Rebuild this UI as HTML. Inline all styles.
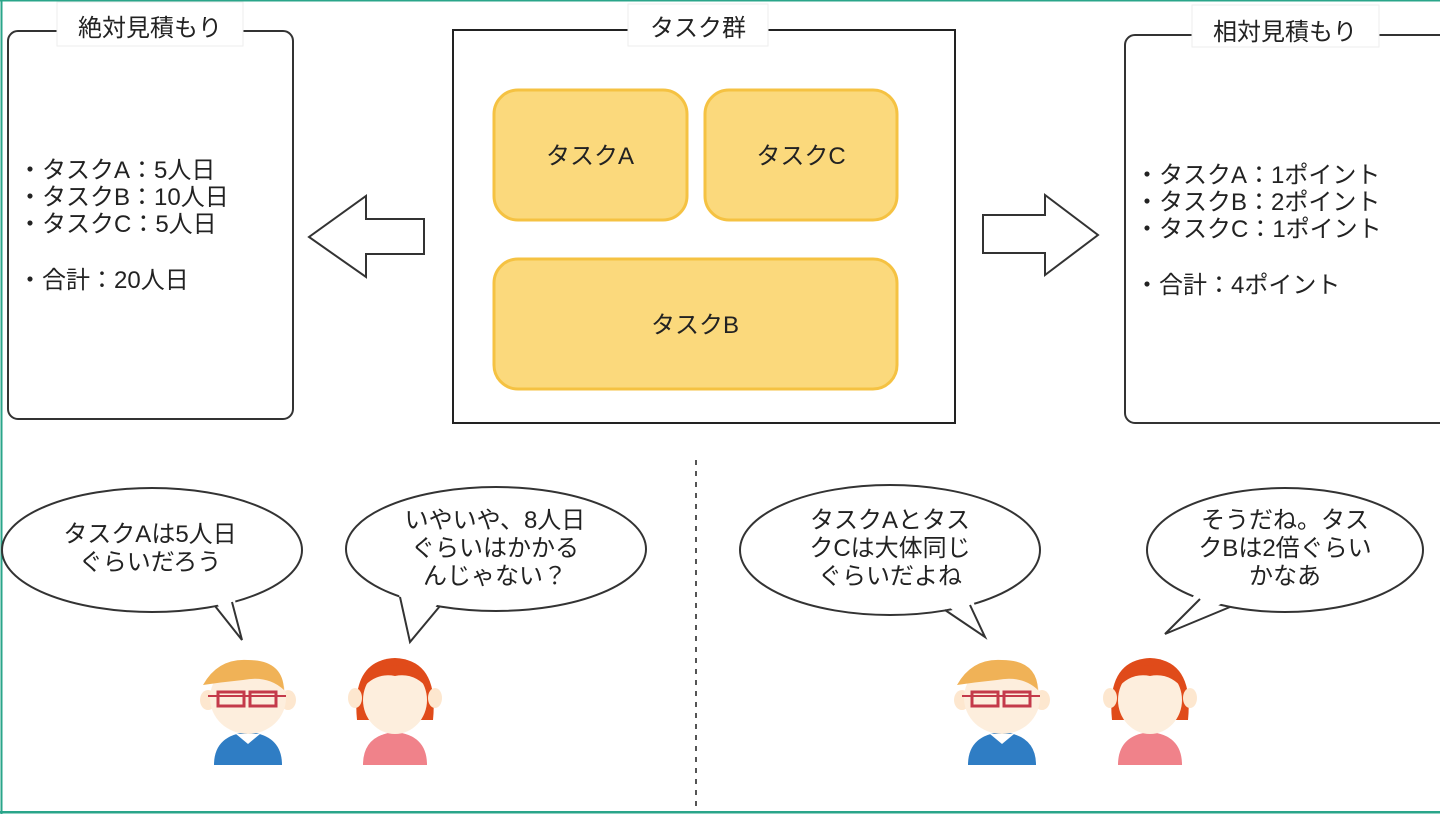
<!DOCTYPE html>
<html><head><meta charset="utf-8"><style>
html,body{margin:0;padding:0;background:#fff}
svg{display:block}
text{font-family:"Liberation Sans","Noto Sans CJK JP",sans-serif;fill:#222}
</style></head><body>
<svg width="1440" height="818" viewBox="0 0 1440 818" xmlns="http://www.w3.org/2000/svg">
<rect x="0" y="0" width="1440" height="818" fill="#fff"/>
<rect x="0.5" y="0" width="2" height="814" fill="#2aa58a"/>
<rect x="0" y="811" width="1440" height="2.5" fill="#2aa58a"/>
<rect x="0" y="0" width="1440" height="1.5" fill="#2aa58a"/>

<rect x="8" y="31" width="285" height="388" rx="10" fill="#fff" stroke="#333" stroke-width="2"/>
<rect x="57" y="2" width="186" height="44" fill="#fff" stroke="#eee"/>
<text x="150" y="36" font-size="24" text-anchor="middle">絶対見積もり</text>
<g font-size="24">
<text x="18" y="178">・タスクA：5人日</text>
<text x="18" y="205">・タスクB：10人日</text>
<text x="18" y="232">・タスクC：5人日</text>
<text x="18" y="288">・合計：20人日</text>
</g>

<rect x="453" y="30" width="502" height="393" fill="#fff" stroke="#222" stroke-width="2"/>
<rect x="628" y="4" width="140" height="42" fill="#fff" stroke="#eee"/>
<text x="698" y="36" font-size="24" text-anchor="middle">タスク群</text>
<rect x="494" y="90" width="193" height="130" rx="24" fill="#fbd97c" stroke="#f5c242" stroke-width="3"/>
<text x="590" y="164" font-size="24" text-anchor="middle">タスクA</text>
<rect x="705" y="90" width="192" height="130" rx="24" fill="#fbd97c" stroke="#f5c242" stroke-width="3"/>
<text x="801" y="164" font-size="24" text-anchor="middle">タスクC</text>
<rect x="494" y="259" width="403" height="130" rx="24" fill="#fbd97c" stroke="#f5c242" stroke-width="3"/>
<text x="695" y="333" font-size="24" text-anchor="middle">タスクB</text>

<polygon points="424,219 366,219 366,196 309,237 366,277 366,254 424,254" fill="#fff" stroke="#333" stroke-width="2"/>
<polygon points="983,215 1045,215 1045,195 1098,235 1045,275 1045,253 983,253" fill="#fff" stroke="#333" stroke-width="2"/>

<rect x="1125" y="35" width="330" height="388" rx="10" fill="#fff" stroke="#333" stroke-width="2"/>
<rect x="1192" y="5" width="187" height="42" fill="#fff" stroke="#eee"/>
<text x="1285" y="40" font-size="24" text-anchor="middle">相対見積もり</text>
<g font-size="24">
<text x="1135" y="183">・タスクA：1ポイント</text>
<text x="1135" y="210">・タスクB：2ポイント</text>
<text x="1135" y="237">・タスクC：1ポイント</text>
<text x="1135" y="293">・合計：4ポイント</text>
</g>

<line x1="696" y1="460" x2="696" y2="810" stroke="#555" stroke-width="2" stroke-dasharray="5,6"/>

<!-- bubbles -->
<g stroke="#333" stroke-width="2" fill="#fff">
<ellipse cx="152" cy="550" rx="150" ry="62"/>
<ellipse cx="496" cy="549" rx="150" ry="62"/>
<ellipse cx="890" cy="550" rx="150" ry="65"/>
<ellipse cx="1285" cy="550" rx="138" ry="62"/>
</g>
<g fill="#fff" stroke="none">
<polygon points="213,598 242,640 234,594"/>
<polygon points="398,590 410,642 442,598"/>
<polygon points="943,602 985,637 972,597"/>
<polygon points="1198,590 1165,634 1232,598"/>
</g>
<g stroke="#333" stroke-width="2" fill="none">
<polyline points="215,606 242,640 232,602"/>
<polyline points="400,597 410,642 440,606"/>
<polyline points="945,610 985,637 970,605"/>
<polyline points="1200,599 1165,634 1230,607"/>
</g>
<g font-size="24" text-anchor="middle">
<text x="150" y="542">タスクAは5人日</text>
<text x="150" y="570">ぐらいだろう</text>
<text x="495" y="528">いやいや、8人日</text>
<text x="495" y="556">ぐらいはかかる</text>
<text x="495" y="584">んじゃない？</text>
<text x="890" y="528">タスクAとタス</text>
<text x="890" y="556">クCは大体同じ</text>
<text x="890" y="584">ぐらいだよね</text>
<text x="1285" y="528">そうだね。タス</text>
<text x="1285" y="556">クBは2倍ぐらい</text>
<text x="1285" y="584">かなあ</text>
</g>

<defs>
<g id="man">
<path d="M-34,85 Q-34,55 0,52 Q34,55 34,85 Z" fill="#2f7dc4"/>
<path d="M-12,54 L0,64 L12,54 Z" fill="#fff"/>
<ellipse cx="-40" cy="20" rx="8" ry="10" fill="#fde7cf"/>
<ellipse cx="40" cy="20" rx="8" ry="10" fill="#fde7cf"/>
<ellipse cx="0" cy="18" rx="38" ry="36" fill="#fdeedd"/>
<path d="M-45,5 Q-30,-22 0,-20 Q35,-20 36,10 Q20,-5 -5,0 Q-25,2 -45,5Z" fill="#f0b257"/>
<rect x="-30" y="12" width="26" height="14" fill="none" stroke="#c43a4a" stroke-width="3"/>
<rect x="2" y="12" width="26" height="14" fill="none" stroke="#c43a4a" stroke-width="3"/>
<line x1="-40" y1="16" x2="38" y2="16" stroke="#c43a4a" stroke-width="2"/>
</g>
<g id="woman">
<path d="M-32,85 Q-32,55 0,52 Q32,55 32,85 Z" fill="#f0828a"/>
<path d="M-38,40 Q-44,-20 0,-22 Q44,-20 38,40 Z" fill="#e04b1a"/>
<ellipse cx="-40" cy="18" rx="7" ry="10" fill="#fde7cf"/>
<ellipse cx="40" cy="18" rx="7" ry="10" fill="#fde7cf"/>
<ellipse cx="0" cy="20" rx="32" ry="34" fill="#fdeedd"/>
<path d="M-34,10 Q-30,-18 0,-14 Q30,-18 34,10 Q20,-8 0,-4 Q-20,-8 -34,10Z" fill="#e04b1a"/>
</g>
</defs>
<use href="#man" x="248" y="680"/>
<use href="#woman" x="395" y="680"/>
<use href="#man" x="1002" y="680"/>
<use href="#woman" x="1150" y="680"/>
</svg>
</body></html>
